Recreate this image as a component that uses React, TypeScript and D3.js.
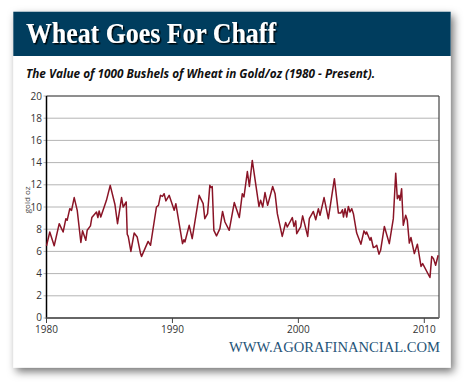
import * as d3 from "d3";

const years = [
  1980.0, 1980.26, 1980.61, 1981.01, 1981.32, 1981.54, 1981.64, 1981.85, 1981.99, 1982.2,
  1982.44, 1982.73, 1982.86, 1983.12, 1983.23, 1983.49, 1983.6, 1983.97, 1984.08, 1984.18,
  1984.31, 1984.76, 1985.06, 1985.43, 1985.64, 1985.96, 1986.09, 1986.33, 1986.41, 1986.49,
  1986.7, 1986.96, 1987.2, 1987.47, 1987.55, 1988.07, 1988.26, 1988.73, 1988.89, 1989.05,
  1989.21, 1989.34, 1989.48, 1989.74, 1990.14, 1990.27, 1990.8, 1990.91, 1990.99, 1991.33,
  1991.57, 1992.12, 1992.44, 1992.57, 1992.79, 1992.97, 1993.08, 1993.16, 1993.29, 1993.5,
  1993.77, 1993.98, 1994.17, 1994.51, 1994.91, 1995.31, 1995.55, 1995.68, 1995.95, 1996.11,
  1996.34, 1996.87, 1997.0, 1997.17, 1997.35, 1997.56, 1997.96, 1998.15, 1998.33, 1998.72,
  1998.99, 1999.12, 1999.52, 1999.65, 1999.79, 1999.87, 2000.18, 2000.34, 2000.74, 2000.87,
  2001.19, 2001.38, 2001.59, 2001.72, 2002.04, 2002.38, 2002.86, 2003.18, 2003.36, 2003.5,
  2003.58, 2003.71, 2003.84, 2003.97, 2004.1, 2004.24, 2004.37, 2004.63, 2004.97, 2005.21,
  2005.35, 2005.42, 2005.69, 2005.77, 2005.95, 2006.08, 2006.22, 2006.4, 2006.53, 2006.83,
  2007.22, 2007.54, 2007.73, 2007.86, 2007.99, 2008.07, 2008.2, 2008.33, 2008.52, 2008.65,
  2008.81, 2008.94, 2009.21, 2009.45, 2009.74, 2009.87, 2010.45, 2010.59, 2010.73, 2010.9,
  2011.1,
];

const values = [
  6.5, 7.75, 6.5, 8.5, 7.75, 8.95, 8.8, 9.85, 9.7, 10.85,
  9.7, 6.8, 7.85, 7.0, 7.9, 8.3, 9.05, 9.55, 9.05, 9.65,
  9.1, 10.6, 11.95, 10.25, 8.5, 10.85, 10.0, 10.45, 7.55, 7.35,
  6.0, 7.65, 7.3, 5.8, 5.55, 6.9, 6.55, 10.0, 10.15, 11.05,
  10.95, 11.2, 10.55, 11.05, 9.7, 10.3, 6.7, 7.05, 6.85, 8.35,
  7.15, 11.05, 10.3, 8.95, 9.4, 11.95, 11.75, 11.85, 7.9, 7.4,
  8.05, 9.6, 8.65, 7.9, 10.4, 9.05, 11.2, 10.9, 13.2, 11.85,
  14.2, 10.05, 10.6, 10.0, 11.3, 10.15, 11.85, 11.2, 9.4, 7.35,
  8.6, 8.2, 9.05, 8.25, 8.75, 7.6, 8.2, 9.2, 7.35, 8.95,
  9.6, 8.85, 9.85, 9.25, 10.85, 8.95, 12.55, 9.45, 9.45, 9.75,
  9.1, 9.85, 9.1, 10.05, 9.55, 9.85, 9.4, 7.65, 6.65, 7.85,
  7.55, 7.75, 7.0, 7.25, 6.35, 6.4, 6.55, 5.75, 6.1, 8.25,
  6.7, 8.95, 13.05, 10.75, 11.05, 10.6, 11.65, 8.35, 9.25, 8.8,
  6.75, 7.25, 5.8, 6.65, 4.65, 4.9, 3.65, 5.55, 5.35, 4.75,
  5.65,
];

const yTicks = [0, 2, 4, 6, 8, 10, 12, 14, 16, 18, 20];
const xTicks = [1980, 1990, 2000, 2010];

const title = "Wheat Goes For Chaff";
const subtitle = "The Value of 1000 Bushels of Wheat in Gold/oz (1980 - Present).";
const yLabel = "gold oz";
const source = "WWW.AGORAFINANCIAL.COM";

export default function App() {
  const width = 470;
  const height = 389;
  const plot = { left: 46.5, right: 439, top: 96, bottom: 318 };

  const x = d3.scaleLinear().domain([1980, 2010]).range([plot.left, 424.3]);
  const y = d3.scaleLinear().domain([0, 20]).range([plot.bottom, plot.top]);

  const points = years.map((yr, i) => [yr, values[i]] as [number, number]);
  const line = d3
    .line<[number, number]>()
    .x((d) => x(d[0]))
    .y((d) => y(d[1]));

  const sans = "'Open Sans', 'DejaVu Sans', sans-serif";
  const serif = "'Liberation Serif', 'DejaVu Serif', serif";

  return (
    <svg
      width={width}
      height={height}
      style={{ position: "absolute", left: 0, top: 0, background: "#fff" }}
    >
      <defs>
        <filter id="cardShadow" x="-10%" y="-10%" width="125%" height="125%">
          <feDropShadow dx="3" dy="4" stdDeviation="4" floodColor="#000" floodOpacity="0.55" />
        </filter>
        <filter id="titleShadow" x="-5%" y="-20%" width="110%" height="150%">
          <feDropShadow dx="1.5" dy="1.5" stdDeviation="0.6" floodColor="#000" floodOpacity="0.9" />
        </filter>
      </defs>

      {/* card */}
      <rect x={13.3} y={11.7} width={437.4} height={356} fill="#fff" filter="url(#cardShadow)" />
      <rect x={13.3} y={11.7} width={437.4} height={44.3} fill="#003d5e" />
      <text
        x={26}
        y={43}
        fill="#fff"
        fontFamily={serif}
        fontSize={29}
        fontWeight="bold"
        textLength={250}
        lengthAdjust="spacingAndGlyphs"
        filter="url(#titleShadow)"
      >
        {title}
      </text>
      <text
        x={26}
        y={78}
        fill="#111"
        fontFamily={sans}
        fontSize={12}
        fontWeight="bold"
        fontStyle="italic"
        textLength={349}
        lengthAdjust="spacingAndGlyphs"
      >
        {subtitle}
      </text>

      {/* grid */}
      {yTicks.map((t) => (
        <line
          key={"g" + t}
          x1={plot.left - 3}
          x2={plot.right}
          y1={y(t)}
          y2={y(t)}
          stroke="#b4b4b4"
          strokeWidth={1}
        />
      ))}
      {yTicks.map((t) => (
        <text
          key={"yl" + t}
          x={42}
          y={y(t) + (t === 0 ? 2.5 : 3.5)}
          textAnchor="end"
          fontFamily={sans}
          fontSize={10}
          fill="#333"
        >
          {t}
        </text>
      ))}
      <text
        transform={`translate(30,${(y(10) + y(12)) / 2 + 4}) rotate(-90)`}
        textAnchor="middle"
        fontFamily={sans}
        fontSize={8}
        fill="#444"
      >
        {yLabel}
      </text>

      {/* frame */}
      <line x1={plot.left} x2={plot.right} y1={plot.top} y2={plot.top} stroke="#444" strokeWidth={1.2} />
      <line x1={plot.right} x2={plot.right} y1={plot.top} y2={plot.bottom} stroke="#444" strokeWidth={1.2} />
      <line x1={plot.left} x2={plot.left} y1={plot.top} y2={plot.bottom + 1} stroke="#000" strokeWidth={1.5} />

      {/* series */}
      <path d={line(points) ?? ""} fill="none" stroke="#8a1426" strokeWidth={1.5} strokeLinejoin="round" />

      {/* bottom axis */}
      <line x1={plot.left} x2={plot.right} y1={plot.bottom} y2={plot.bottom} stroke="#666" strokeWidth={2} />
      {xTicks.map((t) => (
        <g key={"x" + t}>
          <line x1={x(t)} x2={x(t)} y1={plot.bottom} y2={plot.bottom + 5} stroke="#444" strokeWidth={1} />
          <text x={x(t)} y={333} textAnchor="middle" fontFamily={sans} fontSize={10} fill="#333">
            {t}
          </text>
        </g>
      ))}

      <text
        x={440}
        y={352}
        textAnchor="end"
        fontFamily={serif}
        fontSize={14}
        fill="#1f5478"
        textLength={211}
        lengthAdjust="spacingAndGlyphs"
      >
        {source}
      </text>
    </svg>
  );
}
